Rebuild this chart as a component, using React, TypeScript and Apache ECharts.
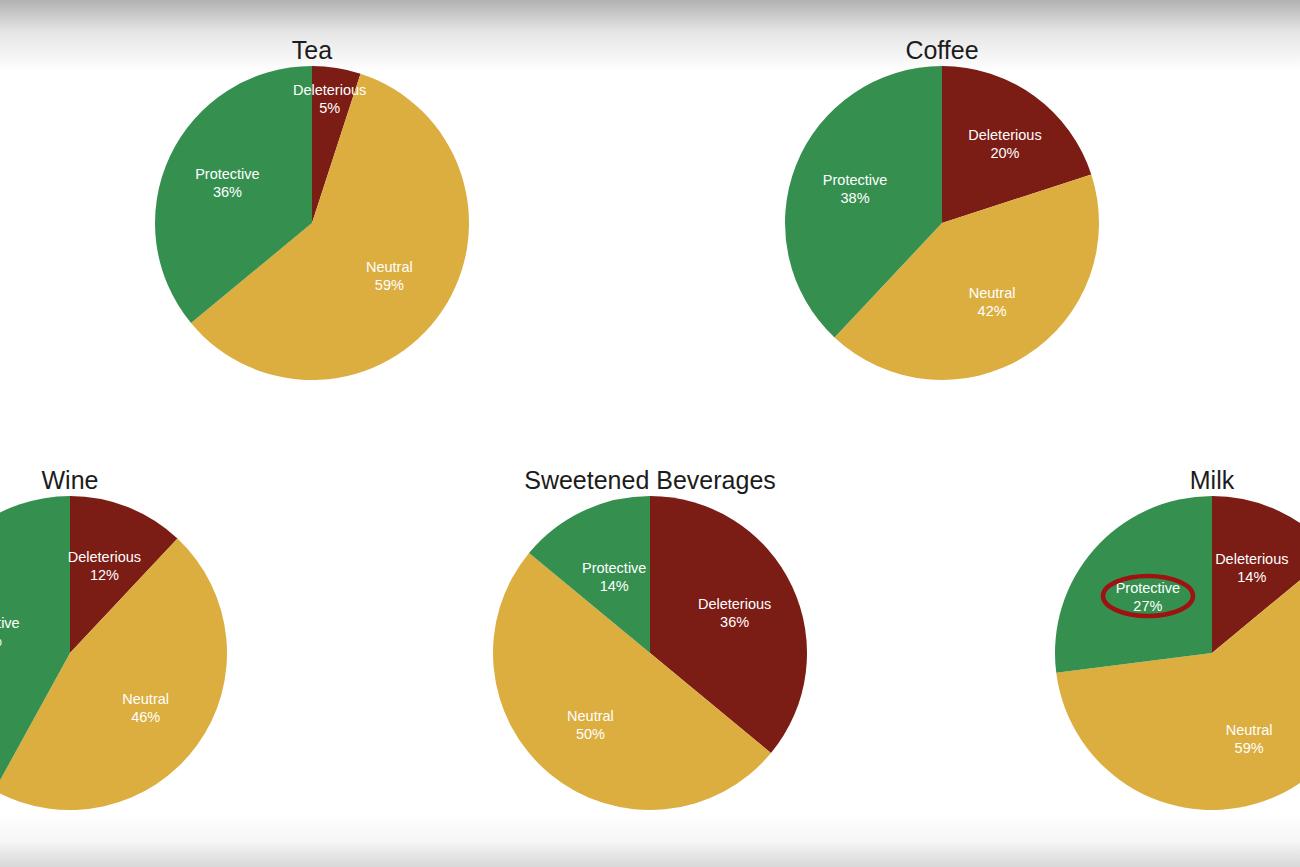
import React, { useEffect, useRef } from "react";
import * as echarts from "echarts";

// Share of studies rating each beverage as deleterious / neutral / protective
const categories = ["Deleterious", "Neutral", "Protective"];
const beverages = ["Tea", "Coffee", "Wine", "Sweetened Beverages", "Milk"];
const teaValues = [5, 59, 36];
const coffeeValues = [20, 42, 38];
const wineValues = [12, 46, 42];
const sweetenedValues = [36, 50, 14];
const milkValues = [14, 59, 27];

const seriesValues = [teaValues, coffeeValues, wineValues, sweetenedValues, milkValues];

const COLORS = ["#7b1c15", "#dcae3f", "#35904f"];
const FONT = "'Liberation Sans', Arial, Helvetica, sans-serif";

// pie centres in px and shared radius
const centers: [number, number][] = [
  [312, 223],
  [942, 223],
  [70, 653],
  [650, 653],
  [1212, 653],
];
const R = 157;

// small nudges for individual slice labels: [pie, slice, dx, dy]
const labelNudges: [number, number, number, number][] = [
  [0, 0, 3, -32],
  [1, 0, 8, -3],
  [2, 2, 8, 2],
  [3, 2, 4, 9],
  [4, 2, 6, 6],
];

export default function App() {
  const ref = useRef<HTMLDivElement>(null);

  useEffect(() => {
    if (!ref.current) return;
    const chart = echarts.init(ref.current, undefined, { renderer: "svg" });

    const series: any[] = [];
    seriesValues.forEach((vals, i) => {
      const data = categories.map((c, k) => ({
        name: c,
        value: vals[k],
        itemStyle: { color: COLORS[k] },
      }));
      // filled slices
      series.push({
        type: "pie",
        center: centers[i],
        radius: [0, R],
        startAngle: 90,
        clockwise: true,
        silent: true,
        label: { show: false },
        labelLine: { show: false },
        data,
      });
      // transparent ring that carries the inside labels a bit further out
      const nudges = labelNudges.filter((n) => n[0] === i);
      series.push({
        type: "pie",
        center: centers[i],
        radius: [24, R],
        startAngle: 90,
        clockwise: true,
        silent: true,
        itemStyle: { color: "transparent" },
        label: {
          show: true,
          position: "inside",
          formatter: "{b}\n{c}%",
          color: "#ffffff",
          fontFamily: FONT,
          fontSize: 14.5,
          lineHeight: 18,
        },
        labelLine: { show: false },
        labelLayout: (p: any) => {
          const n = nudges.find((m) => m[1] === p.dataIndex);
          return n ? { dx: n[2], dy: n[3] } : {};
        },
        data: categories.map((c, k) => ({
          name: c,
          value: vals[k],
          itemStyle: { color: "transparent" },
        })),
      });
    });

    const titles = beverages.map((b, i) => ({
      text: b,
      left: centers[i][0],
      top: centers[i][1] - R - 29,
      textAlign: "center",
      padding: 0,
      textStyle: {
        fontFamily: FONT,
        fontSize: 25,
        fontWeight: "normal",
        color: "#1c1c1c",
      },
    }));

    chart.setOption({
      animation: false,
      backgroundColor: "#ffffff",
      title: titles,
      graphic: [
        {
          type: "rect",
          z: -10,
          shape: { x: 0, y: 0, width: 1300, height: 72 },
          style: {
            fill: new echarts.graphic.LinearGradient(0, 0, 0, 1, [
              { offset: 0, color: "#b2b2b2" },
              { offset: 0.45, color: "#e6e6e6" },
              { offset: 1, color: "#ffffff" },
            ]),
          },
        },
        {
          type: "rect",
          z: -10,
          shape: { x: 0, y: 815, width: 1300, height: 52 },
          style: {
            fill: new echarts.graphic.LinearGradient(0, 0, 0, 1, [
              { offset: 0, color: "#ffffff" },
              { offset: 0.5, color: "#f6f6f6" },
              { offset: 1, color: "#d8d8d8" },
            ]),
          },
        },
        {
          type: "ellipse",
          z: 100,
          shape: { cx: 1148, cy: 596, rx: 45, ry: 20 },
          style: { fill: "none", stroke: "#9e1212", lineWidth: 4.5 },
        },
      ],
      series,
    });

    return () => chart.dispose();
  }, []);

  return (
    <div
      ref={ref}
      style={{ position: "absolute", left: 0, top: 0, width: 1300, height: 867 }}
    />
  );
}
